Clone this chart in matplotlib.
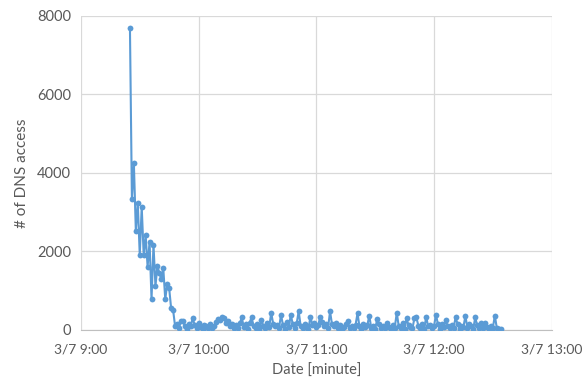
import numpy as np
import pandas as pd
import matplotlib
matplotlib.use('Agg')
import matplotlib.pyplot as plt
import matplotlib.dates as mdates

# per-minute DNS access counts starting 3/7 9:25
start_time = '2016-03-07 09:25'
burst_counts = [7700, 3330, 4250, 2530, 3230, 1910, 3140, 1910, 2420, 1610,
                2250, 780, 2170, 1120, 1630, 1450, 1290, 1570, 780, 1170,
                1060, 550, 510, 100]
tail_counts = [150, 60, 220, 240, 90, 30, 160, 110, 300, 120,
               50, 180, 70, 20, 130, 90, 40, 150, 60, 110,
               200, 280, 260, 320, 300, 180, 240, 90, 150, 60,
               120, 40, 170, 320, 80, 140, 30, 190, 320, 110,
               60, 150, 20, 250, 100, 40, 180, 70, 440, 160,
               90, 130, 50, 390, 120, 30, 200, 80, 390, 140,
               60, 170, 475, 110, 40, 150, 90, 30, 340, 120,
               180, 70, 130, 340, 200, 90, 150, 60, 475, 140,
               100, 170, 50, 120, 30, 80, 150, 240, 40, 110,
               60, 130, 425, 90, 20, 160, 70, 120, 365, 50,
               100, 30, 270, 140, 60, 110, 40, 190, 80, 20,
               130, 60, 440, 100, 50, 170, 30, 300, 120, 70,
               40, 300, 320, 110, 60, 150, 20, 340, 90, 130,
               50, 100, 390, 140, 30, 160, 70, 250, 90, 40,
               120, 60, 320, 150, 30, 110, 80, 360, 50, 140,
               90, 30, 320, 120, 60, 170, 40, 190, 80, 30,
               100, 60, 365, 50, 20, 30]
counts = burst_counts + tail_counts
times = pd.date_range(start_time, periods=len(counts), freq='min')

x_ticks = pd.date_range('2016-03-07 09:00', '2016-03-07 13:00', freq='h')
y_ticks = [0, 2000, 4000, 6000, 8000]

plt.rcParams['font.family'] = ['Lato', 'DejaVu Sans']
TXT = '#595959'

fig = plt.figure(figsize=(5.82, 3.88), dpi=100)
fig.patch.set_facecolor('white')
ax = fig.add_axes([0.139, 0.1495, 0.809, 0.8093])

ax.plot(times, counts, color='#5B9BD5', linewidth=1.5, marker='o',
        markersize=4.2, markeredgewidth=0, zorder=3)

ax.set_xlim(x_ticks[0], x_ticks[-1])
ax.set_ylim(0, 8000)
ax.set_xticks(x_ticks)
ax.xaxis.set_major_formatter(mdates.DateFormatter('3/7 %-H:%M'))
ax.set_yticks(y_ticks)

ax.grid(True, color='#D9D9D9', linewidth=0.9, zorder=0)
ax.set_axisbelow(True)
for side in ['top', 'right', 'left']:
    ax.spines[side].set_visible(False)
ax.spines['bottom'].set_color('#BFBFBF')
ax.tick_params(axis='x', length=0, labelsize=10, colors=TXT, pad=10)
ax.tick_params(axis='y', length=0, labelsize=10.5, colors=TXT, pad=7)

ax.set_xlabel('Date [minute]', fontsize=10.5, color=TXT, labelpad=6)
ax.set_ylabel('# of DNS access', fontsize=11, color=TXT, labelpad=6)

plt.savefig('out.png', dpi=100)
plt.close()
